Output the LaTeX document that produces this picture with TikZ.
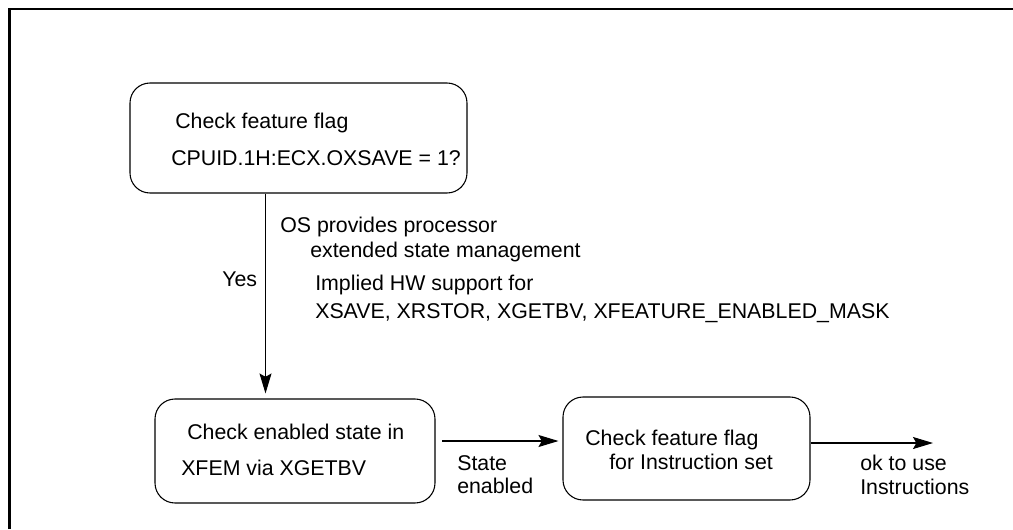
\documentclass[tikz,border=0pt]{standalone}
\usepackage{fontspec}
\setmainfont{Liberation Sans}
\usetikzlibrary{arrows.meta}

\begin{document}
\begin{tikzpicture}[x=0.75pt,y=-0.75pt,
  box/.style={draw,line width=0.8pt,rounded corners=15pt,inner sep=0pt},
  txt/.style={anchor=base west,inner sep=0pt,font=\fontsize{16}{19}\selectfont},
  arr/.style={line width=0.8pt,-{Stealth[length=15pt,width=9pt,inset=2.5pt]}}]
\useasboundingbox (0,0) rectangle (1013,529);
% frame
\draw[line width=2pt] (9.5,529) -- (9.5,9) -- (1013,9);
% boxes
\node[box,minimum width=252.75pt,minimum height=82.5pt] (flag) at (298.5,138) {};
\node[box,minimum width=210pt,minimum height=78pt] (xfem) at (295,451) {};
\node[box,minimum width=185.25pt,minimum height=77.25pt] (inst) at (686.5,448.5) {};
% texts in boxes
\node[txt] (flag1) at (175,128) {Check feature flag};
\node[txt] (flag2) at (171,165) {CPUID.1H:ECX.OXSAVE = 1?};
\node[txt] (xfem1) at (187,439) {Check enabled state in};
\node[txt] (xfem2) at (181,475) {XFEM via XGETBV};
\node[txt] (inst1) at (585,445) {Check feature flag};
\node[txt] (inst2) at (609,469) {for Instruction set};
% labels
\node[txt] (yes) at (222,286) {Yes};
\node[txt] (os1) at (280,232) {OS provides processor};
\node[txt] (os2) at (310,257) {extended state management};
\node[txt] (hw1) at (315,290) {Implied HW support for};
\node[txt] (hw2) at (315,318) {XSAVE, XRSTOR, XGETBV, XFEATURE\_ENABLED\_MASK};
\node[txt] (st1) at (457,470) {State};
\node[txt] (st2) at (457,493) {enabled};
\node[txt] (ok1) at (860,470) {ok to use};
\node[txt] (ok2) at (860,494) {Instructions};
% connectors
\coordinate (down) at (265.5,0);
\coordinate (mid) at (0,441);
\coordinate (out) at (933,443);
\draw[arr,shorten >=3.75pt] (down |- flag.south) -- (down |- xfem.north);
\draw[arr,shorten <=5pt,shorten >=3pt] (xfem.east |- mid) -- (inst.west |- mid);
\draw[arr] (inst.east |- out) -- (out);
\end{tikzpicture}
\end{document}
